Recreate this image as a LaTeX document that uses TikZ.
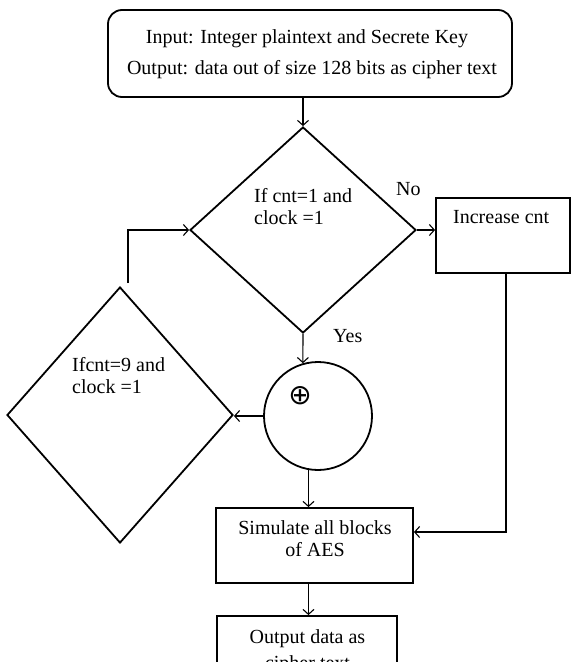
\documentclass[tikz,border=0pt]{standalone}
\usepackage{fontspec}
\setmainfont{Liberation Serif}
\newfontfamily\symfont{DejaVu Sans}
\usetikzlibrary{shapes.geometric,arrows.meta}
\begin{document}
\begin{tikzpicture}[x=1pt,y=-1pt,
  shapeline/.style={draw,line width=1.8pt,inner sep=0pt},
  conn/.style={line width=1.1pt,-{Straight Barb[length=5pt,width=11pt]}},
  lbl/.style={inner sep=0pt,font=\fontsize{20}{23}\selectfont},
]
\useasboundingbox (0,0) rectangle (572,662);
\clip (0,0) rectangle (572,662);
% shapes
\node[shapeline, rounded corners=14pt, minimum width=404pt, minimum height=87pt] (top) at (310,53.5) {};
\node[shapeline, diamond, minimum width=226pt, minimum height=206pt] (d1) at (303,230) {};
\node[shapeline, minimum width=134pt, minimum height=75pt] (inc) at (503,235.5) {};
\node[shapeline, circle, minimum size=108pt] (circ) at (318,416) {};
\node[shapeline, diamond, minimum width=226pt, minimum height=256pt] (d2) at (120,415) {};
\node[shapeline, minimum width=197pt, minimum height=75pt] (sim) at (314.5,545.5) {};
\node[shapeline, minimum width=180pt, minimum height=74pt] (out) at (307,653) {};
% texts
\node[lbl, anchor=base] (t1) at (307,43) {Input: Integer plaintext and Secrete Key};
\node[lbl, anchor=base] (t2) at (312,74) {Output: data out of size 128 bits as cipher text};
\node[lbl, anchor=base west] (d1a) at (254,202) {If cnt=1 and};
\node[lbl, anchor=base west] (d1b) at (254,224) {clock =1};
\node[lbl, anchor=base west] (no) at (396,195) {No};
\node[lbl, anchor=base west] (inct) at (453,223) {Increase cnt};
\node[lbl, anchor=base west] (yes) at (333,342) {Yes};
\node[lbl, anchor=base west] (d2a) at (72,371) {Ifcnt=9 and};
\node[lbl, anchor=base west] (d2b) at (72,393) {clock =1};
\node[inner sep=0pt, font=\symfont\fontsize{28}{28}\selectfont] (xor) at (300,396) {⊕};
\node[lbl, anchor=base] (s1) at (315,534) {Simulate all blocks};
\node[lbl, anchor=base] (s2) at (315,556) {of AES};
\node[lbl, anchor=base] (o1) at (307.5,643) {Output data as};
\node[lbl, anchor=base] (o2) at (307.5,669) {cipher text};
% connectors
\draw[conn] (top.south -| d1.north) -- (d1.north);
\draw[conn] (d1.east) -- (d1.east -| inc.west);
\draw[conn] (d1.south) -- (circ.106);
\draw[conn] (circ.west) -- (circ.west -| d2.east);
\draw[conn] ([xshift=8pt,yshift=3pt]d2.north) |- (d1.west);
\coordinate (bend) at (506,532);
\draw[conn] (bend |- inc.south) -- (bend) -- (bend -| sim.east);
\draw[conn] (circ.-100) -- (circ.-100 |- sim.north);
\draw[conn] (sim.south -| circ.-100) -- (out.north -| circ.-100);
\end{tikzpicture}
\end{document}
